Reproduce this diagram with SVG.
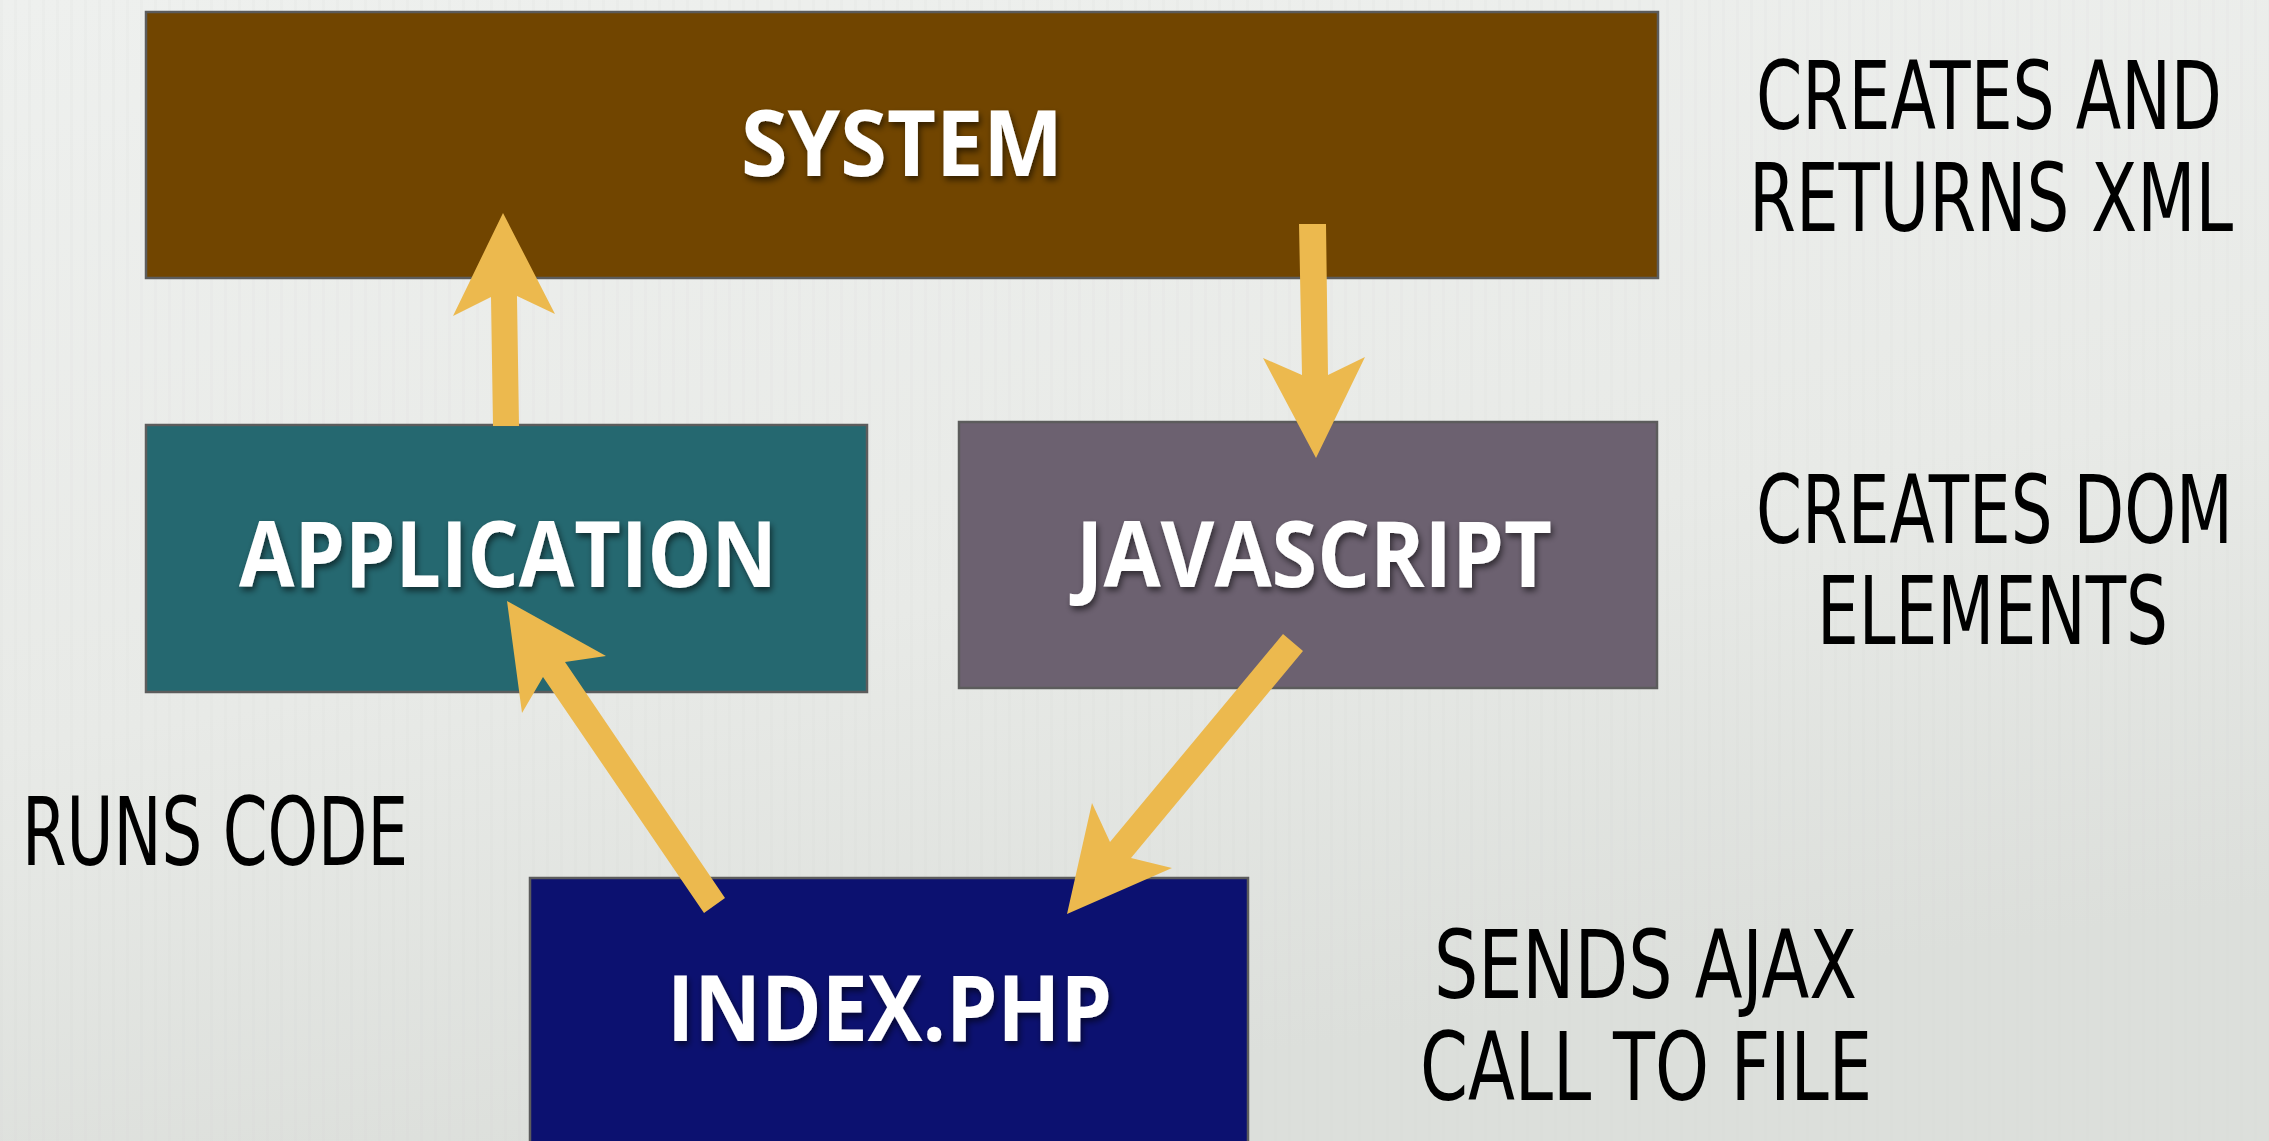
<svg xmlns="http://www.w3.org/2000/svg" width="2269" height="1141" viewBox="0 0 2269 1141">
  <defs>
    <linearGradient id="bg" x1="0" y1="0" x2="0.3" y2="1">
      <stop offset="0" stop-color="#eef0ee"/>
      <stop offset="0.6" stop-color="#e8eae7"/>
      <stop offset="1" stop-color="#dcdfdb"/>
    </linearGradient>
    <pattern id="stripes" width="14" height="14" patternUnits="userSpaceOnUse">
      <rect x="0" y="0" width="3" height="14" fill="#c8ccc8" opacity="0.08"/>
    </pattern>
    <filter id="shadow" x="-10%" y="-30%" width="120%" height="160%">
      <feDropShadow dx="2" dy="4" stdDeviation="3" flood-color="#000" flood-opacity="0.55"/>
    </filter>
    <style>
      .box { stroke: #5c5c5c; stroke-width: 2.5; }
      .lbl { font-family: "Open Sans", "Liberation Sans", sans-serif; font-weight: 700; font-size: 92px; fill: #ffffff; filter: url(#shadow); }
      .note { font-family: "Liberation Sans Narrow", "DejaVu Sans Condensed", "Liberation Sans", sans-serif; font-size: 70px; fill: #000000; }
      .arrow { fill: #ecb94e; }
    </style>
  </defs>

  <rect x="0" y="0" width="2269" height="1141" fill="url(#bg)"/>
  <rect x="0" y="0" width="2269" height="1141" fill="url(#stripes)"/>

  <g id="node-system">
    <rect class="box" x="146" y="12" width="1512" height="266" fill="#714500"/>
    <text class="lbl" x="741" y="176" textLength="322" lengthAdjust="spacingAndGlyphs">SYSTEM</text>
  </g>

  <g id="node-application">
    <rect class="box" x="146" y="425" width="721" height="267" fill="#256870"/>
    <text class="lbl" x="239" y="587" textLength="538" lengthAdjust="spacingAndGlyphs">APPLICATION</text>
  </g>

  <g id="node-javascript">
    <rect class="box" x="959" y="422" width="698" height="266" fill="#6c6170"/>
    <text class="lbl" x="1076" y="587" textLength="476" lengthAdjust="spacingAndGlyphs">JAVASCRIPT</text>
  </g>

  <g id="node-index">
    <rect class="box" x="530" y="878" width="718" height="275" fill="#0c1170"/>
    <text class="lbl" x="667" y="1041" textLength="445" lengthAdjust="spacingAndGlyphs">INDEX.PHP</text>
  </g>

  <g id="notes">
    <text class="note" transform="translate(1756,129) scale(1,1.343)" textLength="466" lengthAdjust="spacingAndGlyphs">CREATES AND</text>
    <text class="note" transform="translate(1749,231) scale(1,1.343)" textLength="484" lengthAdjust="spacingAndGlyphs">RETURNS XML</text>
    <text class="note" transform="translate(1756,543) scale(1,1.343)" textLength="477" lengthAdjust="spacingAndGlyphs">CREATES DOM</text>
    <text class="note" transform="translate(1817,644) scale(1,1.343)" textLength="351" lengthAdjust="spacingAndGlyphs">ELEMENTS</text>
    <text class="note" transform="translate(22,865) scale(1,1.343)" textLength="386" lengthAdjust="spacingAndGlyphs">RUNS CODE</text>
    <text class="note" transform="translate(1434,998) scale(1,1.343)" textLength="423" lengthAdjust="spacingAndGlyphs">SENDS AJAX</text>
    <text class="note" transform="translate(1420,1100) scale(1,1.343)" textLength="452" lengthAdjust="spacingAndGlyphs">CALL TO FILE</text>
  </g>

  <g id="connectors">
    <polygon class="arrow" points="503,213 555,314 517,296 519,426 493,426 491,297 453,316"/>
    <polygon class="arrow" points="1299,224 1326,224 1328,375 1365,357 1316,458 1263,358 1302,375"/>
    <polygon class="arrow" points="507,601 606,656 565,662 725,898 704,913 543,677 522,713"/>
    <polygon class="arrow" points="1283,634 1303,651 1131,858 1172,868 1067,914 1092,803 1110,842"/>
  </g>
</svg>
